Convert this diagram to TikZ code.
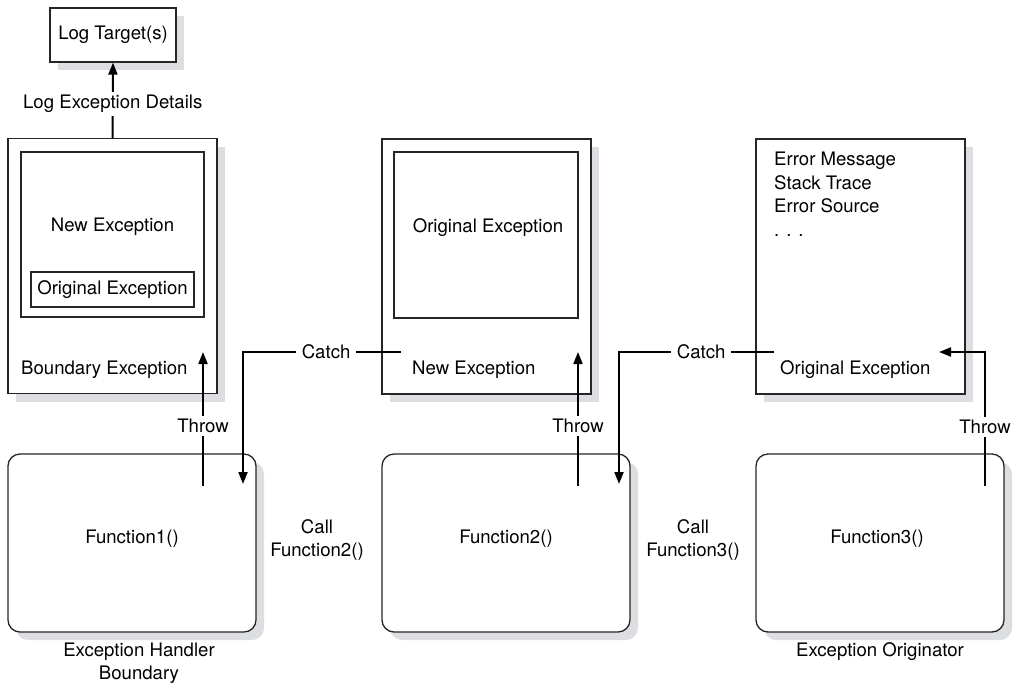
\documentclass[tikz,border=0pt]{standalone}
\usepackage{fontspec}
\setmainfont{TeX Gyre Heros}
\usetikzlibrary{arrows.meta,shadows}
\definecolor{shade}{RGB}{221,222,225}
\definecolor{edge}{RGB}{38,38,38}
\begin{document}
\begin{tikzpicture}[x=1pt,y=-1pt,
  font=\fontsize{18.6}{23.5}\selectfont,
  box/.style={draw=edge, line width=1.3pt, fill=white, inner sep=0pt},
  shadowed/.style={drop shadow={shadow xshift=8pt, shadow yshift=-8pt, fill=shade, opacity=1}},
  panel/.style={box, shadowed},
  func/.style={box, shadowed, rounded corners=12pt, minimum width=248pt, minimum height=178pt},
  exc/.style={panel, minimum width=209pt, minimum height=255pt},
  inner/.style={draw=edge, line width=1.3pt, inner sep=0pt},
  flow/.style={draw=black, line width=2pt, -{Triangle[length=12pt,width=9pt]}},
  tag/.style={fill=white, inner xsep=5.5pt, inner ysep=3pt},
  txt/.style={inner sep=0pt, align=center}]
\path[use as bounding box] (0,0) rectangle (1015,686);

% log target
\node[panel, minimum width=126pt, minimum height=54pt] (logt) at (113,35) {Log Target(s)};

% exception objects
\node[exc] (bnd) at (112.5,266) {};
\node[inner, minimum width=183pt, minimum height=165pt] (bndin) at (112.5,234.5) {};
\node[inner, minimum width=163pt, minimum height=35pt] (bndorig) at (112.5,289.5) {Original Exception};
\node[txt] (bndnew) at (112.5,227) {New Exception};
\node[txt, anchor=west] (bndlbl) at (21,370) {Boundary Exception};

\node[exc] (mid) at (486.5,266.5) {};
\node[inner, minimum width=184pt, minimum height=166pt] (midin) at (486,235) {};
\node[txt] (midorig) at (488,228) {Original Exception};
\node[txt, anchor=west] (midlbl) at (412,370) {New Exception};

\node[exc] (org) at (860.5,266.5) {};
\node[txt, anchor=north west, align=left] (orglist) at (774,152) {Error Message\\Stack Trace\\Error Source\\. . .};
\node[txt, anchor=west] (orglbl) at (780,370) {Original Exception};

% functions
\node[func] (f1) at (132,543) {};
\node[func] (f2) at (506,543) {};
\node[func] (f3) at (880,543) {};
\node[txt] (f1t) at (132,539) {Function1()};
\node[txt] (f2t) at (506,539) {Function2()};
\node[txt] (f3t) at (877,539) {Function3()};

\node[txt] (call2) at (317,540) {Call\\Function2()};
\node[txt] (call3) at (693,540) {Call\\Function3()};
\node[txt] (f1lbl) at (139,663) {Exception Handler\\Boundary};
\node[txt] (f3lbl) at (880,652) {Exception Originator};

% connector end points
\coordinate (t1a) at (203,486);
\coordinate (t1b) at (203,352);
\coordinate (t2a) at (578,486);
\coordinate (t2b) at (578,352);
\coordinate (t3a) at (985,486);
\coordinate (t3b) at (939,352);
\coordinate (c1a) at (401,352);
\coordinate (c1b) at (243,484);
\coordinate (c2a) at (774,352);
\coordinate (c2b) at (619,484);

% connectors
\draw[flow] (bnd.north) -- (logt.south) node[tag, pos=0.45] {Log Exception Details};
\draw[flow] (t1a) -- (t1b) node[tag, pos=0.45] {Throw};
\draw[flow] (t2a) -- (t2b) node[tag, pos=0.45] {Throw};
\draw[flow] (t3a) |- (t3b) node[tag, pos=0.22] {Throw};
\draw[flow] (c1a) -| (c1b) node[tag, pos=0.237] {Catch};
\draw[flow] (c2a) -| (c2b) node[tag, pos=0.235] {Catch};
\end{tikzpicture}
\end{document}
